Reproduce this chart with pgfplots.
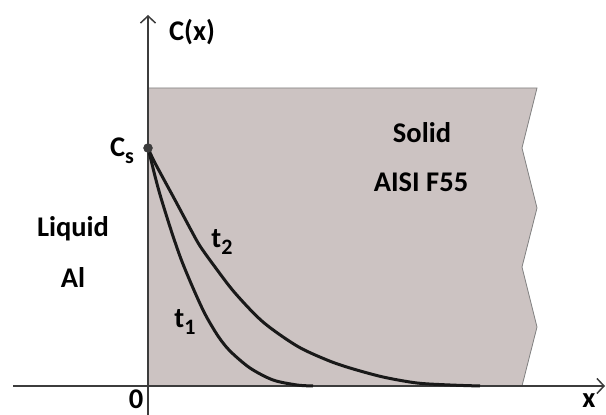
\documentclass[border=0pt]{standalone}
\usepackage{fontspec}
\setmainfont{Carlito}
\usepackage{pgfplots}
\pgfplotsset{compat=1.18}
\usetikzlibrary{arrows.meta}
\definecolor{solidfill}{RGB}{204,195,194}
\definecolor{axisgray}{RGB}{60,60,60}
\newcommand{\sub}[1]{\raisebox{-0.25em}{\fontsize{22}{22}\selectfont #1}}
\tikzset{lab/.style={font=\fontsize{28.5}{31}\selectfont\bfseries, inner sep=0pt}}
\begin{document}
\begin{tikzpicture}
\begin{axis}[
  x=1pt, y=1pt, scale only axis,
  xmin=-148, xmax=458, ymin=-29, ymax=386,
  hide axis, clip=false,
]
% solid region
\addplot[fill=solidfill, draw=gray, line width=0.8pt] coordinates {
  (0,0) (0,298) (389,298) (374,238) (389,178) (374,119) (389,59) (374,0)
} -- cycle;
% axes
\addplot[axisgray, line width=1.5pt, -{Straight Barb[length=7pt,width=15pt,line width=1.5pt]}]
  coordinates {(-135,0) (457,0)};
\addplot[axisgray, line width=1.5pt, -{Straight Barb[length=7pt,width=15pt,line width=1.5pt]}]
  coordinates {(0,-29) (0,371)};
% t1 curve
\addplot[black!90, line width=3pt, smooth] coordinates {
  (0,238) (3,226) (8,206) (13,188) (23,156) (33,127) (45,98) (57,72) (70,50) (82,35) (102,18) (125,6) (149,1) (165,0)
};
% t2 curve
\addplot[black!90, line width=3pt, smooth] coordinates {
  (0,238) (7,223) (27,186) (43,156) (52,140) (67,119) (87,93) (115,64) (149,40) (179,26) (202,18) (235,9) (269,3) (302,1) (332,0)
};
% Cs point
\addplot[only marks, mark=*, mark size=4.5pt, mark options={fill=axisgray, draw=axisgray}]
  coordinates {(0,238)};
% labels
\node[lab] at (axis cs:44,354) {C(x)};
\node[lab] at (axis cs:-26,235) {C\sub{s}};
\node[lab] at (axis cs:274,253) {Solid};
\node[lab] at (axis cs:273,204) {AISI F55};
\node[lab] at (axis cs:-75,157) {Liquid};
\node[lab] at (axis cs:-75,108) {Al};
\node[lab] at (axis cs:74,144) {t\sub{2}};
\node[lab] at (axis cs:37,64) {t\sub{1}};
\node[lab] at (axis cs:-12,-13) {0};
\node[lab] at (axis cs:441,-15) {x};
\end{axis}
\pgfresetboundingbox
\path (current axis.south west) rectangle (current axis.north east);
\end{tikzpicture}
\end{document}
